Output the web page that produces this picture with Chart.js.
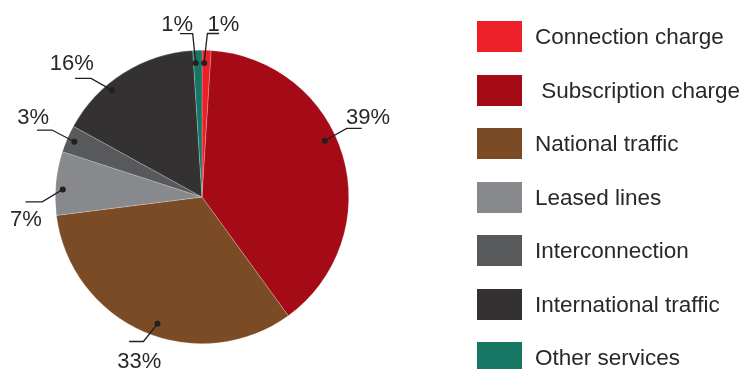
<!DOCTYPE html>
<html lang="en">
<head>
    <meta charset="UTF-8">
    <title>Revenue breakdown</title>
    <style>
        body {
            margin: 0;
            background: #fff;
            font-family: "Liberation Sans", Arial, sans-serif;
        }
        #wrap {
            position: relative;
            width: 744px;
            height: 369px;
        }
        #legend {
            position: absolute;
            left: 477px;
            top: 21px;
        }
        .item {
            position: absolute;
            left: 0;
            height: 31px;
            white-space: pre;
        }
        .box {
            position: absolute;
            left: 0;
            top: 0;
            width: 45px;
            height: 31px;
        }
        .txt {
            position: absolute;
            left: 58px;
            top: 0;
            line-height: 31px;
            font-size: 22.5px;
            color: #2b2728;
        }
    </style>
</head>
<body>
<div id="wrap">
    <canvas id="grafico" width="744" height="369"></canvas>
    <div id="legend"></div>
</div>

<script src="https://cdn.jsdelivr.net/npm/chart.js"></script>
<script>
    const categorie = ['Connection charge', ' Subscription charge', 'National traffic', 'Leased lines',
        'Interconnection', 'International traffic', 'Other services'];
    const quote = [1, 39, 33, 7, 3, 16, 1];
    const colori = ['#ed1f29', '#a50b17', '#7b4b26', '#88898c', '#58595b', '#333132', '#177563'];

    // posizione delle etichette: t = frazione dell'arco, rf = frazione del raggio,
    // ex/ey = gomito rispetto al punto, hx = tratto orizzontale, tx/ty = testo rispetto al gomito
    const richiami = [
        { t: 0.25, rf: 0.914, ex: 3.3, ey: -29.4, hx: 11.7, tx: 16, ty: -2.6 },
        { t: 0.44, rf: 0.92, ex: 22, ey: -12.3, hx: 15, tx: 21.3, ty: -4.4 },
        { t: 0.466, rf: 0.916, ex: -14, ey: 17.7, hx: -14.3, tx: -4.1, ty: 26 },
        { t: 0.41, rf: 0.95, ex: -20.6, ey: 12.4, hx: -16.7, tx: -16.4, ty: 24.3 },
        { t: 0.5, rf: 0.948, ex: -22.3, ey: -11.7, hx: -15, tx: -18.9, ty: -6 },
        { t: 0.365, rf: 0.953, ex: -20.7, ey: -11.7, hx: -16, tx: -19.3, ty: -8.3 },
        { t: 0.25, rf: 0.914, ex: -3, ey: -29.4, hx: -12.7, tx: -15.5, ty: -2.6 }
    ];

    // legenda html costruita dagli stessi array
    const legenda = document.getElementById('legend');
    categorie.forEach((nome, i) => {
        const riga = document.createElement('div');
        riga.className = 'item';
        riga.style.top = (i * 53.5) + 'px';
        riga.innerHTML = '<div class="box" style="background:' + colori[i] + '"></div>' +
            '<div class="txt"></div>';
        riga.querySelector('.txt').textContent = nome;
        legenda.appendChild(riga);
    });

    // etichette percentuali con linea di richiamo
    const etichette = {
        id: 'etichette',
        afterDatasetsDraw(chart) {
            const ctx = chart.ctx;
            const archi = chart.getDatasetMeta(0).data;
            ctx.save();
            ctx.strokeStyle = '#231f20';
            ctx.fillStyle = '#2b2728';
            ctx.lineWidth = 1.3;
            ctx.font = '22px "Liberation Sans", Arial, sans-serif';
            ctx.textAlign = 'center';
            ctx.textBaseline = 'alphabetic';
            archi.forEach((arco, i) => {
                const r = richiami[i];
                const p = arco.getProps(['x', 'y', 'startAngle', 'endAngle', 'outerRadius'], true);
                const ang = p.startAngle + (p.endAngle - p.startAngle) * r.t;
                const dx = p.x + Math.cos(ang) * p.outerRadius * r.rf;
                const dy = p.y + Math.sin(ang) * p.outerRadius * r.rf;
                const gx = dx + r.ex;
                const gy = dy + r.ey;
                ctx.beginPath();
                ctx.moveTo(dx, dy);
                ctx.lineTo(gx, gy);
                ctx.lineTo(gx + r.hx, gy);
                ctx.stroke();
                ctx.beginPath();
                ctx.arc(dx, dy, 3, 0, Math.PI * 2);
                ctx.fillStyle = '#231f20';
                ctx.fill();
                ctx.fillStyle = '#2b2728';
                ctx.fillText(quote[i] + '%', gx + r.tx, gy + r.ty);
            });
            ctx.restore();
        }
    };

    new Chart(document.getElementById('grafico'), {
        type: 'pie',
        data: {
            labels: categorie,
            datasets: [{
                data: quote,
                backgroundColor: colori,
                borderColor: 'rgba(255,255,255,0.45)',
                borderWidth: 0.5
            }]
        },
        options: {
            responsive: false,
            animation: false,
            events: [],
            layout: {
                padding: { left: 55, right: 395, top: 50, bottom: 25 }
            },
            plugins: {
                legend: { display: false },
                tooltip: { enabled: false }
            }
        },
        plugins: [etichette]
    });
</script>
</body>
</html>
